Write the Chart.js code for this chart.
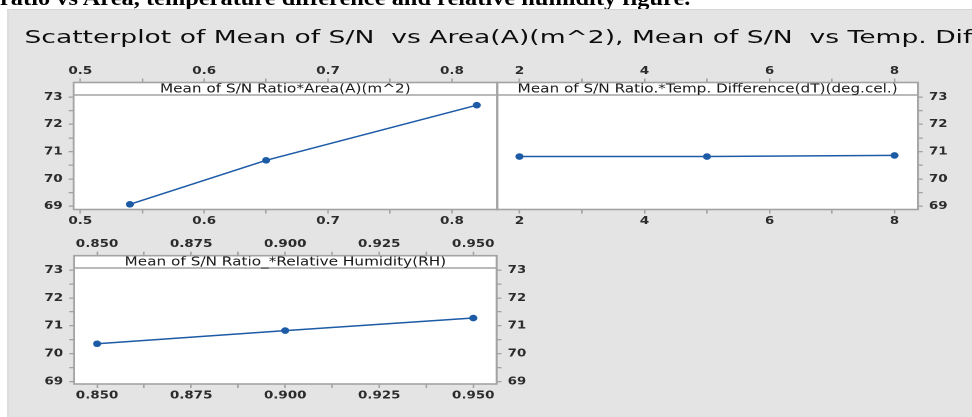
<!DOCTYPE html>
<html><head><meta charset="utf-8">
<script src="https://cdn.jsdelivr.net/npm/chart.js@4.4.1/dist/chart.umd.min.js"></script>
<style>
html,body{margin:0;padding:0;background:#fff;width:972px;height:417px;overflow:hidden;}
#wrap{position:absolute;left:0;top:0;height:417px;transform-origin:0 0;}
#frame{position:absolute;background:#e4e4e4;border-left:1px solid #d6d6d6;border-top:1px solid #d6d6d6;}
#cap{position:absolute;left:0;font:bold 20px "Liberation Serif";line-height:18px;white-space:pre;color:#000;}
#title{position:absolute;font:18px "DejaVu Sans";line-height:18px;white-space:pre;color:#0d0d0d;transform-origin:0 0;transform:scaleX(1.21);}
.box{position:absolute;}
</style></head><body>
<div id="wrap">
 <div id="cap">ratio vs Area, temperature difference and relative humidity figure.</div>
 <div id="frame"></div>
 <div id="title">Scatterplot of Mean of S/N  vs Area(A)(m^2), Mean of S/N  vs Temp. Dif</div>
 <div class="box" id="b1"><canvas id="c1"></canvas></div>
 <div class="box" id="b2"><canvas id="c2"></canvas></div>
 <div class="box" id="b3"><canvas id="c3"></canvas></div>
</div>
<script>
// ---- data ----
const areaX = [0.54, 0.65, 0.82];
const areaSN = [69.07, 70.68, 72.70];
const tempX = [2, 5, 8];
const tempSN = [70.82, 70.82, 70.86];
const rhX = [0.85, 0.90, 0.95];
const rhSN = [70.36, 70.83, 71.28];

const snTicks = [69, 69.5, 70, 70.5, 71, 71.5, 72, 72.5, 73];
const snTickLabels = ['69', '', '70', '', '71', '', '72', '', '73'];
const areaTicks = [0.5, 0.55, 0.6, 0.65, 0.7, 0.75, 0.8];
const areaTickLabels = ['0.5', '', '0.6', '', '0.7', '', '0.8'];
const tempTicks = [2, 3, 4, 5, 6, 7, 8];
const tempTickLabels = ['2', '', '4', '', '6', '', '8'];
const rhTicks = [0.85, 0.8625, 0.875, 0.8875, 0.9, 0.9125, 0.925, 0.9375, 0.95];
const rhTickLabels = ['0.850', '', '0.875', '', '0.900', '', '0.925', '', '0.950'];

const panelTitles = [
  'Mean of S/N Ratio*Area(A)(m^2)',
  'Mean of S/N Ratio.*Temp. Difference(dT)(deg.cel.)',
  'Mean of S/N Ratio_*Relative Humidity(RH)'
];

// ---- layout (stretched look) ----
const S = 1.22;
const wrap = document.getElementById('wrap');
wrap.style.width = (972 / S) + 'px';
wrap.style.transform = 'scaleX(' + S + ')';
function place(el, x, y, w, h) {
  el.style.left = (x / S) + 'px';
  el.style.top = y + 'px';
  if (w != null) el.style.width = (w / S) + 'px';
  if (h != null) el.style.height = h + 'px';
}
place(document.getElementById('frame'), 7, 8.5, 972 - 7, 417 - 8.5);
place(document.getElementById('cap'), 0, -11);
place(document.getElementById('title'), 24, 28);

const BLUE = '#1d5ba7';
const GRAY = '#a3a3a3';
const TXT = '#2b2b2b';
const tickFont = { family: 'DejaVu Sans', size: 11, weight: 'bold' };

const deco = {
  id: 'deco',
  beforeDraw(chart) {
    const a = chart.chartArea, c = chart.ctx;
    c.save(); c.fillStyle = '#fff'; c.fillRect(a.left, a.top, a.right - a.left, a.bottom - a.top); c.restore();
  },
  afterDraw(chart) {
    const a = chart.chartArea, c = chart.ctx, o = chart.options.plugins.deco;
    c.save();
    c.strokeStyle = GRAY; c.lineWidth = 1.4;
    c.beginPath(); c.moveTo(a.left, a.top + o.strip); c.lineTo(a.right, a.top + o.strip); c.stroke();
    c.fillStyle = '#1a1a1a'; c.font = '12.5px "DejaVu Sans"'; c.textAlign = 'center'; c.textBaseline = 'middle';
    c.fillText(o.text, (a.left + a.right) / 2, a.top + o.strip / 2 + 0.5);
    c.lineWidth = 1.6;
    c.strokeRect(a.left, a.top, a.right - a.left, a.bottom - a.top);
    c.restore();
  }
};

function xAxis(pos, min, max, ticks, labels, h) {
  return {
    type: 'linear', position: pos, min, max,
    afterBuildTicks: ax => { ax.ticks = ticks.map(v => ({ value: v })); },
    afterFit: ax => { ax.height = h; },
    ticks: { autoSkip: false, maxRotation: 0, padding: 1, color: TXT, font: tickFont,
      callback: (v, i) => labels[i] },
    grid: { drawOnChartArea: false, drawTicks: true, tickLength: 4, color: GRAY, lineWidth: 1.3 },
    border: { display: false }
  };
}
function yAxis(pos, min, max, w) {
  return {
    type: 'linear', position: pos, min, max,
    afterBuildTicks: ax => { ax.ticks = snTicks.map(v => ({ value: v })); },
    afterFit: ax => { ax.width = w; },
    ticks: { autoSkip: false, padding: 5, color: TXT, font: tickFont,
      callback: (v, i) => snTickLabels[i] },
    grid: { drawOnChartArea: false, drawTicks: true, tickLength: 4, color: GRAY, lineWidth: 1.3 },
    border: { display: false }
  };
}

function makePanel(id, boxId, cv, area, xs, ys, xr, xt, xl, yr, leftAxis, rightAxis, title, strip) {
  place(document.getElementById(boxId), cv.x0, cv.y0, cv.x1 - cv.x0, cv.y1 - cv.y0);
  const lw = (area.l - cv.x0) / S, rw = (cv.x1 - area.r) / S;
  const th = area.t - cv.y0, bh = cv.y1 - area.b;
  const scales = {
    x: xAxis('bottom', xr[0], xr[1], xt, xl, bh),
    x2: xAxis('top', xr[0], xr[1], xt, xl, th)
  };
  const pad = { left: 0, right: 0, top: 0, bottom: 0 };
  if (leftAxis && rightAxis) {
    scales.y = yAxis('left', yr[0], yr[1], lw);
    scales.y2 = yAxis('right', yr[0], yr[1], rw);
  } else if (leftAxis) {
    scales.y = yAxis('left', yr[0], yr[1], lw); pad.right = rw;
  } else {
    scales.y = yAxis('right', yr[0], yr[1], rw); pad.left = lw;
  }
  return new Chart(document.getElementById(id), {
    type: 'scatter',
    data: { datasets: [{
      data: xs.map((x, i) => ({ x, y: ys[i] })),
      showLine: true, borderColor: BLUE, backgroundColor: BLUE,
      borderWidth: 1.5, pointRadius: 3.3, pointBorderWidth: 0,
      xAxisID: 'x', yAxisID: 'y'
    }] },
    options: {
      responsive: true, maintainAspectRatio: false, animation: false,
      devicePixelRatio: 2,
      layout: { padding: pad },
      plugins: { legend: { display: false }, tooltip: { enabled: false },
        deco: { text: title, strip } },
      scales
    },
    plugins: [deco]
  });
}

makePanel('c1', 'b1', { x0: 20, y0: 55, x1: 505, y1: 235 }, { l: 74, t: 82.5, r: 497, b: 209.5 },
  areaX, areaSN, [0.4946, 0.8364], areaTicks, areaTickLabels, [68.88, 73.53], true, false, panelTitles[0], 12.5);
makePanel('c2', 'b2', { x0: 490, y0: 55, x1: 968, y1: 235 }, { l: 497, t: 82.5, r: 918, b: 209.5 },
  tempX, tempSN, [1.648, 8.374], tempTicks, tempTickLabels, [68.88, 73.53], false, true, panelTitles[1], 12.5);
makePanel('c3', 'b3', { x0: 20, y0: 230, x1: 540, y1: 410 }, { l: 74.5, t: 255.7, r: 496, b: 384 },
  rhX, rhSN, [0.8439, 0.9562], rhTicks, rhTickLabels, [68.92, 73.51], true, true, panelTitles[2], 12.3);
</script>
</body></html>
